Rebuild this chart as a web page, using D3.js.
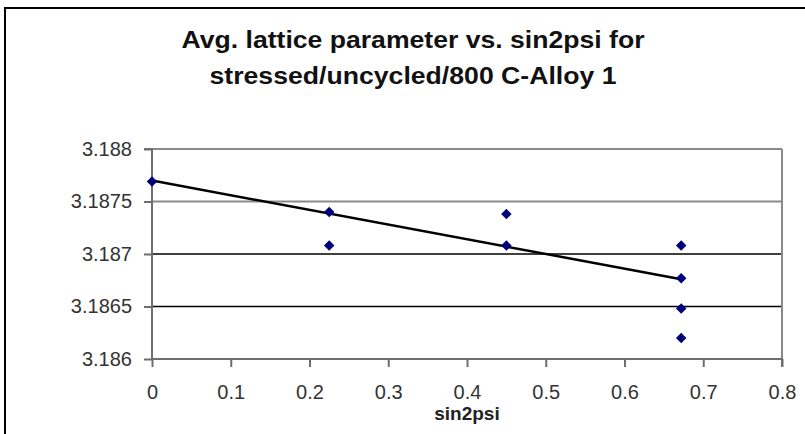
<!DOCTYPE html>
<html>
<head>
<meta charset="utf-8">
<script src="https://cdn.jsdelivr.net/npm/d3@7"></script>
<style>
html,body{margin:0;padding:0;background:#fff;}
svg{display:block;}
</style>
</head>
<body>
<svg id="chart" width="805" height="434"></svg>
<script>
// ---- data ----
const titleLines = ["Avg. lattice parameter vs. sin2psi for", "stressed/uncycled/800 C-Alloy 1"];
const xLabel = "sin2psi";
const sin2psi = [0, 0.225, 0.225, 0.45, 0.45, 0.672, 0.672, 0.672, 0.672];
const latticeParam = [3.18769, 3.18740, 3.18708, 3.18738, 3.18708, 3.18708, 3.18677, 3.18648, 3.18620];
const trendX = [0, 0.672];
const trendY = [3.18770, 3.18676];
const xTicks = [0, 0.1, 0.2, 0.3, 0.4, 0.5, 0.6, 0.7, 0.8];
const yTicks = [3.186, 3.1865, 3.187, 3.1875, 3.188];
const yTickLabels = ["3.186", "3.1865", "3.187", "3.1875", "3.188"];

// ---- layout ----
const svg = d3.select("#chart");
const plot = {left: 152, right: 782, top: 149, bottom: 359};
const x = d3.scaleLinear().domain([0, 0.8]).range([plot.left, plot.right]);
const y = d3.scaleLinear().domain([3.186, 3.188]).range([plot.bottom, plot.top]);

svg.append("rect").attr("width", 805).attr("height", 434).attr("fill", "#fff");
// outer chart frame (cropped at right/bottom)
svg.append("path").attr("d", "M5,434 L5,8 L805,8").attr("fill", "none")
  .attr("stroke", "#000").attr("stroke-width", 2);

// title
const titleWidths = [463, 407];
const title = svg.append("text").attr("text-anchor", "middle")
  .attr("font-family", "Liberation Sans, Arial, sans-serif").attr("font-weight", "bold")
  .attr("font-size", 23).attr("fill", "#111");
title.selectAll("tspan").data(titleLines).join("tspan")
  .attr("x", 413).attr("y", (d, i) => 48 + i * 36)
  .attr("textLength", (d, i) => titleWidths[i]).attr("lengthAdjust", "spacingAndGlyphs")
  .text(d => d);

// gridlines
svg.append("g").selectAll("line").data(yTicks.slice(1)).join("line")
  .attr("x1", plot.left).attr("x2", plot.right)
  .attr("y1", d => y(d)).attr("y2", d => y(d))
  .attr("stroke", d => d >= 3.1875 ? "#8a8a8a" : "#000")
  .attr("stroke-width", d => d >= 3.1875 ? 2 : 1.5);
// right border of plot area
svg.append("line").attr("x1", plot.right).attr("x2", plot.right)
  .attr("y1", plot.top).attr("y2", plot.bottom)
  .attr("stroke", "#8a8a8a").attr("stroke-width", 2);

// axes
const axisFont = "Liberation Sans, Arial, sans-serif";
const xAxis = svg.append("g").attr("transform", `translate(0,${plot.bottom})`)
  .call(d3.axisBottom(x).tickValues(xTicks).tickSize(8).tickPadding(18)
    .tickFormat(d3.format("")));
const yAxis = svg.append("g").attr("transform", `translate(${plot.left},0)`)
  .call(d3.axisLeft(y).tickValues(yTicks).tickSize(8).tickPadding(12)
    .tickFormat((d, i) => yTickLabels[i]));
[xAxis, yAxis].forEach(g => {
  g.select(".domain").attr("stroke", "#6e6e6e").attr("stroke-width", 2);
  g.selectAll(".tick line").attr("stroke", "#6e6e6e").attr("stroke-width", 2);
  g.selectAll(".tick text").attr("font-family", axisFont).attr("font-size", 20)
    .attr("fill", "#333");
});
xAxis.select(".domain").attr("d", `M${plot.left},0H${plot.right}V8`);
yAxis.select(".domain").attr("d", `M-8,${plot.top}H0V${plot.bottom}`);

// axis title
svg.append("text").attr("x", (plot.left + plot.right) / 2).attr("y", 420)
  .attr("text-anchor", "middle").attr("font-family", axisFont)
  .attr("font-weight", "bold").attr("font-size", 19).attr("fill", "#222").text(xLabel);

// trendline
const trend = trendX.map((d, i) => [d, trendY[i]]);
svg.append("path").datum(trend)
  .attr("d", d3.line().x(d => x(d[0])).y(d => y(d[1])))
  .attr("fill", "none").attr("stroke", "#000").attr("stroke-width", 2.5);

// points
const pts = sin2psi.map((d, i) => [d, latticeParam[i]]);
svg.append("g").selectAll("path").data(pts).join("path")
  .attr("transform", d => `translate(${x(d[0])},${y(d[1])})`)
  .attr("d", d3.symbol().type(d3.symbolDiamond2).size(70))
  .attr("fill", "#00007a");
</script>
</body>
</html>
